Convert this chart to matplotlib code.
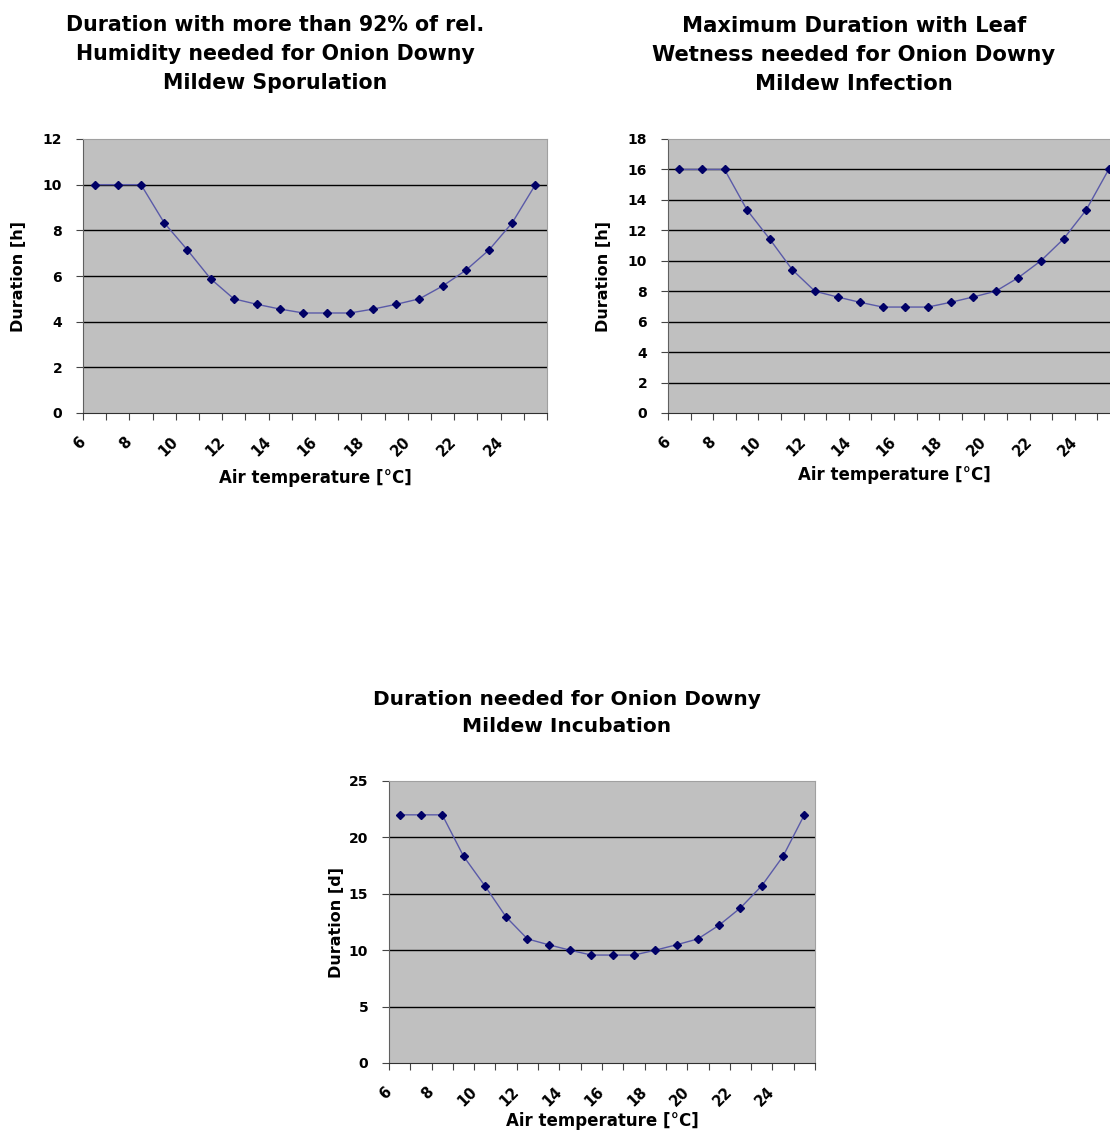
import numpy as np
import matplotlib
matplotlib.use('Agg')
import matplotlib.pyplot as plt

plt.rcParams['font.family'] = 'DejaVu Sans'
plt.rcParams['font.weight'] = 'bold'

# air temperature categories
temps = list(range(6, 26))

# duration with rel. humidity > 92% for sporulation [h]
sporulation_h = [10, 10, 10, 8.33, 7.14, 5.88, 5.0, 4.76, 4.55, 4.38,
                 4.38, 4.38, 4.55, 4.76, 5.0, 5.56, 6.25, 7.14, 8.33, 10]
# max leaf wetness duration for infection [h]
infection_h = [16, 16, 16, 13.33, 11.43, 9.41, 8.0, 7.62, 7.27, 6.96,
               6.96, 6.96, 7.27, 7.62, 8.0, 8.89, 10.0, 11.43, 13.33, 16]
# incubation duration [d]
incubation_d = [22, 22, 22, 18.33, 15.71, 12.94, 11.0, 10.48, 10.0, 9.57,
                9.57, 9.57, 10.0, 10.48, 11.0, 12.22, 13.75, 15.71, 18.33, 22]

titles = ["Duration with more than 92% of rel.\nHumidity needed for Onion Downy\nMildew Sporulation",
          "Maximum Duration with Leaf\nWetness needed for Onion Downy\nMildew Infection",
          "Duration needed for Onion Downy\nMildew Incubation"]
ylabels = ["Duration [h]", "Duration [h]", "Duration [d]"]
xlabel = "Air temperature [\u00b0C]"
yticks_all = [list(range(0, 13, 2)), list(range(0, 19, 2)), list(range(0, 26, 5))]

W, H = 1110, 1135
fig = plt.figure(figsize=(W / 100, H / 100), dpi=100)

# axes boxes in pixels: left, top, right, bottom
boxes = [(83, 139, 547, 413), (668, 139, 1120, 413), (389, 781, 815, 1063)]
title_pos = [(275, 54), (854, 55), (567, 713)]
title_size = [14.8, 15.2, 14.5]
ylab_x = [-0.123, -0.126, -0.106]
xlab_y = [-0.205, -0.195, -0.172]

series = [sporulation_h, infection_h, incubation_d]

for i in range(3):
    l, t, r, b = boxes[i]
    ax = fig.add_axes([l / W, 1 - b / H, (r - l) / W, (b - t) / H])
    ax.set_facecolor('#c0c0c0')
    yt = yticks_all[i]
    ax.set_ylim(yt[0], yt[-1])
    ax.set_xlim(temps[0] - 0.5, temps[-1] + 0.5)
    for v in yt[1:-1]:
        ax.axhline(v, color='black', lw=1, zorder=1)
    ax.plot(temps, series[i], color='#5a5aa8', lw=1, marker='D', markersize=4,
            markerfacecolor='#000066', markeredgecolor='#000066', zorder=3, clip_on=False)

    ax.set_yticks(yt)
    ax.tick_params(axis='y', direction='out', length=5, pad=10, labelsize=10, color='#444444')
    # tick marks between categories, labels every other category
    ax.xaxis.remove_overlapping_locs = False
    ax.set_xticks([x - 0.5 for x in temps] + [temps[-1] + 0.5])
    ax.set_xticklabels([])
    ax.tick_params(axis='x', which='major', direction='out', length=5, color='#444444')
    lab_pos = [x - 0.5 for x in temps if x % 2 == 0]
    ax.set_xticks(lab_pos, [str(x) for x in temps if x % 2 == 0], minor=True,
                  rotation=45, ha='right', va='center', rotation_mode='anchor')
    ax.tick_params(axis='x', which='minor', length=0, pad=19, labelsize=10.5)

    for s in ['top', 'right']:
        ax.spines[s].set_color('#a0a0a0')
    ax.spines['left'].set_color('#606060')
    ax.spines['bottom'].set_color('#303030')

    ax.set_ylabel(ylabels[i], fontsize=11.5, fontweight='bold')
    ax.yaxis.set_label_coords(ylab_x[i], 0.5)
    ax.set_xlabel(xlabel, fontsize=12, fontweight='bold')
    ax.xaxis.set_label_coords(0.5, xlab_y[i])

    tx, ty = title_pos[i]
    fig.text(tx / W, 1 - ty / H, titles[i], ha='center', va='center',
             fontsize=title_size[i], fontweight='bold', linespacing=1.55)

fig.savefig('out.png', dpi=100)
